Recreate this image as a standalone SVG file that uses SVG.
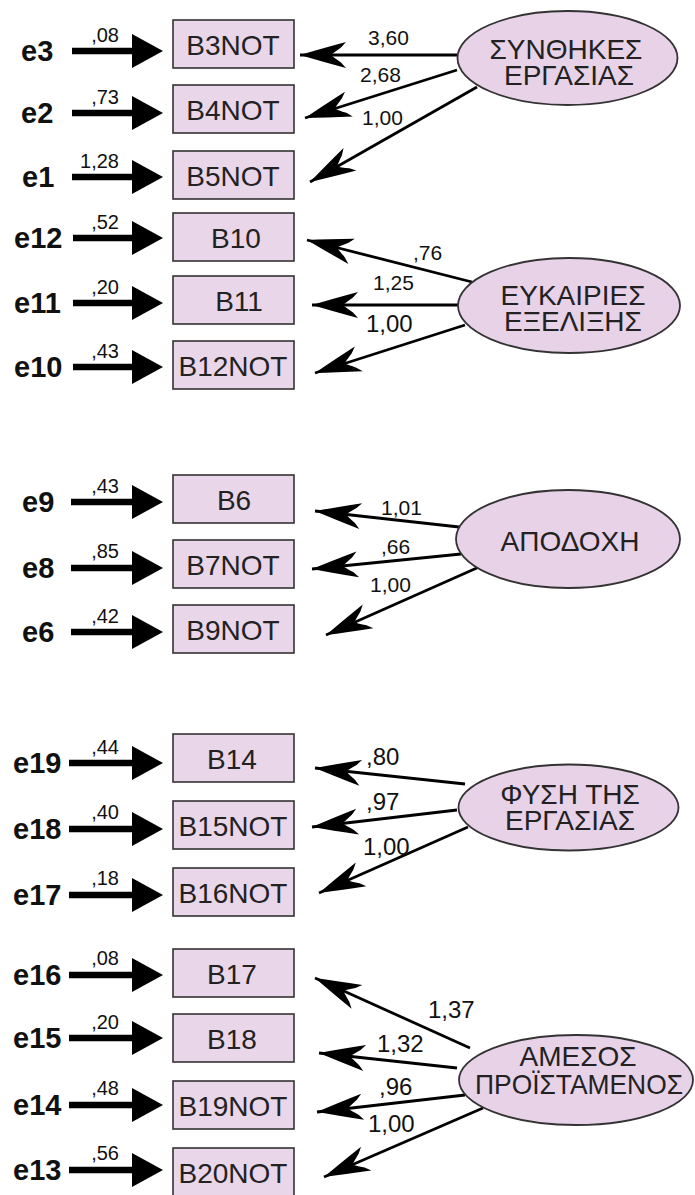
<svg xmlns="http://www.w3.org/2000/svg" width="695" height="1195" viewBox="0 0 695 1195">
<defs>
<style>
.box{fill:#e9d6e9;stroke:#333;stroke-width:1.6}
.ell{fill:#e8d2e8;stroke:#333;stroke-width:1.8}
.bt{font-family:"Liberation Sans",Arial,sans-serif;font-size:28px;fill:#222;text-anchor:middle}
.et{font-family:"Liberation Sans",Arial,sans-serif;font-size:28px;fill:#222;text-anchor:middle}
.er{font-family:"Liberation Sans",Arial,sans-serif;font-size:29px;font-weight:bold;fill:#111}
.ec{font-family:"Liberation Sans",Arial,sans-serif;font-size:20px;fill:#111;text-anchor:end}
.lc{font-family:"Liberation Sans",Arial,sans-serif;font-size:21px;fill:#111}
.lb{font-size:24px}
.ea{stroke:#000;stroke-width:6.5;fill:none;marker-end:url(#tri)}
.la{stroke:#000;stroke-width:2.8;fill:none;marker-end:url(#dart)}
</style>
<marker id="tri" markerUnits="userSpaceOnUse" orient="auto" refX="0" refY="0" markerWidth="40" markerHeight="40" overflow="visible">
<path d="M-4,-17 L27,0 L-4,17 Z" fill="#000"/>
</marker>
<marker id="dart" markerUnits="userSpaceOnUse" orient="auto" refX="0" refY="0" markerWidth="60" markerHeight="40" overflow="visible">
<path d="M0,0 Q-20,-6 -46,-13 L-41,-7.5 Q-34,-2.5 -31,0 Q-34,2.5 -41,7.5 L-46,13 Q-20,6 0,0 Z" fill="#000"/>
</marker>
</defs>

<g id="connectors">
<line class="ea" x1="72" y1="51" x2="136" y2="51"/>
<line class="ea" x1="72" y1="113" x2="136" y2="113"/>
<line class="ea" x1="72" y1="177" x2="136" y2="177"/>
<line class="ea" x1="73" y1="238" x2="136" y2="238"/>
<line class="ea" x1="73" y1="303" x2="136" y2="303"/>
<line class="ea" x1="73" y1="367" x2="136" y2="367"/>
<line class="ea" x1="71" y1="502" x2="136" y2="502"/>
<line class="ea" x1="71" y1="568" x2="136" y2="568"/>
<line class="ea" x1="71" y1="632" x2="136" y2="632"/>
<line class="ea" x1="69" y1="763" x2="136" y2="763"/>
<line class="ea" x1="69" y1="829" x2="136" y2="829"/>
<line class="ea" x1="69" y1="895" x2="136" y2="895"/>
<line class="ea" x1="69" y1="975" x2="136" y2="975"/>
<line class="ea" x1="69" y1="1038" x2="136" y2="1038"/>
<line class="ea" x1="69" y1="1105" x2="136" y2="1105"/>
<line class="ea" x1="69" y1="1170" x2="136" y2="1170"/>

<text class="ec" x="119" y="42">,08</text>
<text class="ec" x="119" y="104">,73</text>
<text class="ec" x="119" y="168">1,28</text>
<text class="ec" x="119" y="229">,52</text>
<text class="ec" x="119" y="294">,20</text>
<text class="ec" x="119" y="358">,43</text>
<text class="ec" x="119" y="493">,43</text>
<text class="ec" x="119" y="558">,85</text>
<text class="ec" x="119" y="623">,42</text>
<text class="ec" x="119" y="754">,44</text>
<text class="ec" x="119" y="819">,40</text>
<text class="ec" x="119" y="885">,18</text>
<text class="ec" x="119" y="965">,08</text>
<text class="ec" x="119" y="1029">,20</text>
<text class="ec" x="119" y="1095">,48</text>
<text class="ec" x="119" y="1160">,56</text>

<line class="la" x1="457" y1="55" x2="300" y2="55"/>
<line class="la" x1="457" y1="70" x2="305" y2="118"/>
<line class="la" x1="477" y1="87" x2="310" y2="182"/>
<text class="lc" x="368" y="45">3,60</text>
<text class="lc" x="360" y="82">2,68</text>
<text class="lc" x="362" y="125">1,00</text>

<line class="la" x1="472" y1="282" x2="307" y2="240"/>
<line class="la" x1="458" y1="305" x2="312" y2="305"/>
<line class="la" x1="465" y1="325" x2="315" y2="373"/>
<text class="lc" x="413" y="260">,76</text>
<text class="lc" x="373" y="290">1,25</text>
<text class="lc lb" x="366" y="332">1,00</text>

<line class="la" x1="459" y1="527" x2="315" y2="511"/>
<line class="la" x1="461" y1="554" x2="312" y2="569"/>
<line class="la" x1="479" y1="567" x2="326" y2="635"/>
<text class="lc" x="381" y="515">1,01</text>
<text class="lc" x="381" y="554">,66</text>
<text class="lc" x="370" y="592">1,00</text>

<line class="la" x1="465" y1="784" x2="315" y2="768"/>
<line class="la" x1="457" y1="810" x2="312" y2="827"/>
<line class="la" x1="468" y1="827" x2="319" y2="893"/>
<text class="lc lb" x="366" y="765">,80</text>
<text class="lc lb" x="366" y="810">,97</text>
<text class="lc lb" x="363" y="855">1,00</text>

<line class="la" x1="470" y1="1048" x2="315" y2="978"/>
<line class="la" x1="457" y1="1068" x2="319" y2="1053"/>
<line class="la" x1="465" y1="1095" x2="317" y2="1112"/>
<line class="la" x1="483" y1="1108" x2="324" y2="1177"/>
<text class="lc lb" x="428" y="1018">1,37</text>
<text class="lc lb" x="377" y="1052">1,32</text>
<text class="lc lb" x="379" y="1095">,96</text>
<text class="lc lb" x="368" y="1132">1,00</text>
</g>

<g id="e3"><text class="er" x="21" y="61">e3</text></g>
<g id="e2"><text class="er" x="21" y="123">e2</text></g>
<g id="e1"><text class="er" x="22" y="187">e1</text></g>
<g id="e12"><text class="er" x="14" y="248">e12</text></g>
<g id="e11"><text class="er" x="14" y="313">e11</text></g>
<g id="e10"><text class="er" x="14" y="377">e10</text></g>
<g id="e9"><text class="er" x="22" y="512">e9</text></g>
<g id="e8"><text class="er" x="22" y="578">e8</text></g>
<g id="e6"><text class="er" x="22" y="642">e6</text></g>
<g id="e19"><text class="er" x="13" y="773">e19</text></g>
<g id="e18"><text class="er" x="13" y="839">e18</text></g>
<g id="e17"><text class="er" x="13" y="905">e17</text></g>
<g id="e16"><text class="er" x="13" y="985">e16</text></g>
<g id="e15"><text class="er" x="13" y="1048">e15</text></g>
<g id="e14"><text class="er" x="13" y="1115">e14</text></g>
<g id="e13"><text class="er" x="13" y="1180">e13</text></g>

<g id="B3NOT"><rect class="box" x="173" y="20" width="121" height="48"/><text class="bt" x="233" y="55">B3NOT</text></g>
<g id="B4NOT"><rect class="box" x="173" y="85" width="121" height="48"/><text class="bt" x="233" y="120">B4NOT</text></g>
<g id="B5NOT"><rect class="box" x="173" y="151" width="121" height="48"/><text class="bt" x="233" y="186">B5NOT</text></g>
<g id="B10"><rect class="box" x="173" y="213" width="121" height="48"/><text class="bt" x="236" y="248">B10</text></g>
<g id="B11"><rect class="box" x="173" y="276" width="121" height="48"/><text class="bt" x="239" y="311">B11</text></g>
<g id="B12NOT"><rect class="box" x="173" y="341" width="121" height="48"/><text class="bt" x="233" y="376">B12NOT</text></g>
<g id="B6"><rect class="box" x="173" y="475" width="121" height="48"/><text class="bt" x="234" y="510">B6</text></g>
<g id="B7NOT"><rect class="box" x="173" y="540" width="121" height="48"/><text class="bt" x="233" y="575">B7NOT</text></g>
<g id="B9NOT"><rect class="box" x="173" y="605" width="121" height="48"/><text class="bt" x="233" y="640">B9NOT</text></g>
<g id="B14"><rect class="box" x="173" y="734" width="121" height="48"/><text class="bt" x="232" y="769">B14</text></g>
<g id="B15NOT"><rect class="box" x="173" y="801" width="121" height="48"/><text class="bt" x="233" y="836">B15NOT</text></g>
<g id="B16NOT"><rect class="box" x="173" y="868" width="121" height="48"/><text class="bt" x="233" y="903">B16NOT</text></g>
<g id="B17"><rect class="box" x="173" y="949" width="121" height="48"/><text class="bt" x="232" y="984">B17</text></g>
<g id="B18"><rect class="box" x="173" y="1014" width="121" height="48"/><text class="bt" x="232" y="1049">B18</text></g>
<g id="B19NOT"><rect class="box" x="173" y="1081" width="121" height="48"/><text class="bt" x="233" y="1116">B19NOT</text></g>
<g id="B20NOT"><rect class="box" x="173" y="1148" width="121" height="48"/><text class="bt" x="233" y="1183">B20NOT</text></g>

<g id="SYNTHIKES"><ellipse class="ell" cx="567.5" cy="58" rx="110" ry="47"/><text class="et" x="566" y="59">ΣΥΝΘΗΚΕΣ</text><text class="et" x="569" y="85">ΕΡΓΑΣΙΑΣ</text></g>
<g id="EYKAIRIES"><ellipse class="ell" cx="569" cy="305.5" rx="111" ry="47.5"/><text class="et" x="573" y="305">ΕΥΚΑΙΡΙΕΣ</text><text class="et" x="573" y="331">ΕΞΕΛΙΞΗΣ</text></g>
<g id="APODOXI"><ellipse class="ell" cx="568" cy="539" rx="112" ry="49"/><text class="et" x="570" y="551">ΑΠΟΔΟΧΗ</text></g>
<g id="FYSI"><ellipse class="ell" cx="568.5" cy="807.5" rx="110" ry="43"/><text class="et" x="570" y="804">ΦΥΣΗ ΤΗΣ</text><text class="et" x="570" y="830">ΕΡΓΑΣΙΑΣ</text></g>
<g id="AMESOS"><ellipse class="ell" cx="576" cy="1080" rx="117" ry="45"/><text class="et" x="578" y="1066">ΑΜΕΣΟΣ</text><text class="et" x="579" y="1094" textLength="208" lengthAdjust="spacingAndGlyphs">ΠΡΟΪΣΤΑΜΕΝΟΣ</text></g>
</svg>
